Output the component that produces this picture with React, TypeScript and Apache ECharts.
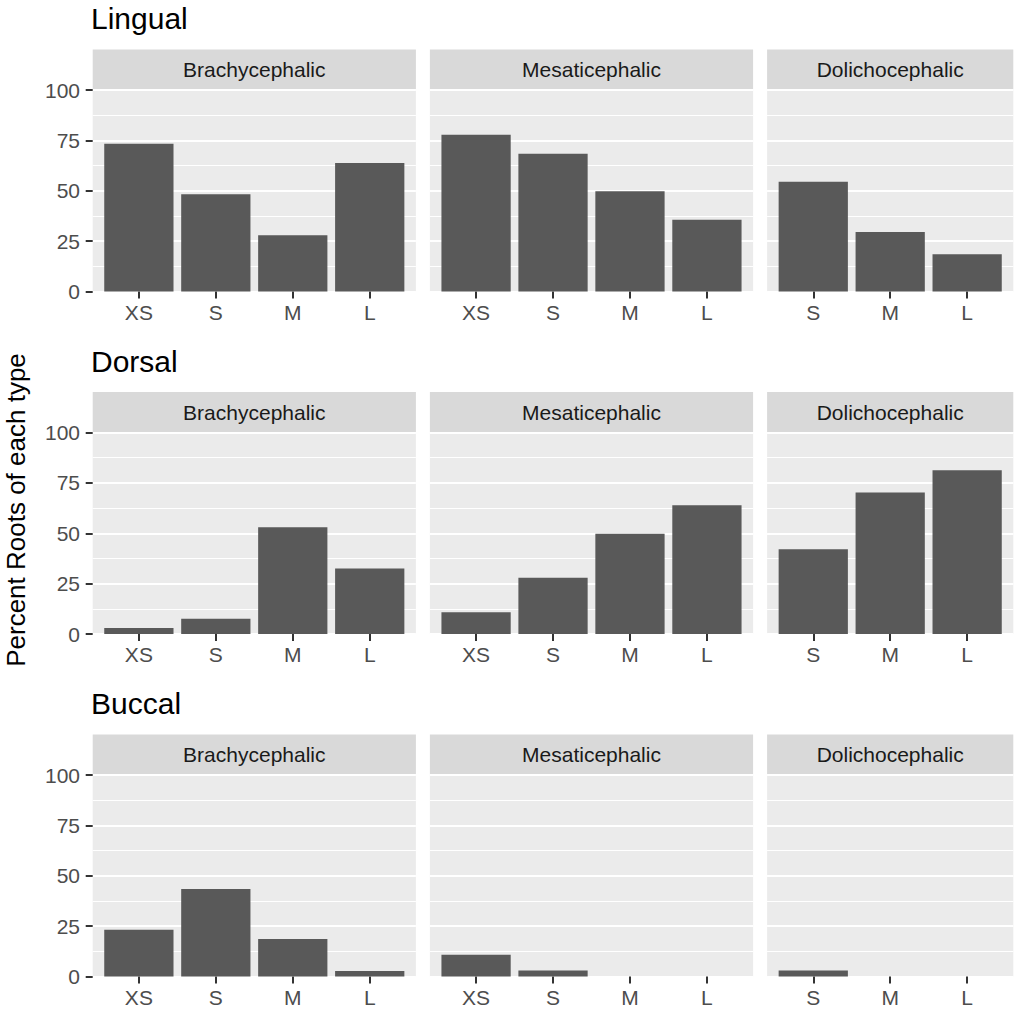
import React, { useEffect, useRef } from "react";
import * as echarts from "echarts";

const rowTitles = ["Lingual", "Dorsal", "Buccal"];
const colTitles = ["Brachycephalic", "Mesaticephalic", "Dolichocephalic"];
const sizes4 = ["XS", "S", "M", "L"];
const sizes3 = ["S", "M", "L"];
const yAxisTitle = "Percent Roots of each type";

const lingualBrachy = [73.3, 48.3, 28.0, 63.8];
const lingualMesati = [77.8, 68.4, 49.8, 35.7];
const lingualDolicho = [54.5, 29.6, 18.5];
const dorsalBrachy = [3.0, 7.6, 53.0, 32.6];
const dorsalMesati = [10.8, 28.0, 49.8, 63.9];
const dorsalDolicho = [42.1, 70.2, 81.3];
const buccalBrachy = [23.2, 43.4, 18.6, 2.8];
const buccalMesati = [10.8, 3.0, 0, 0];
const buccalDolicho = [3.0, 0, 0];

const panelData = [
  [lingualBrachy, lingualMesati, lingualDolicho],
  [dorsalBrachy, dorsalMesati, dorsalDolicho],
  [buccalBrachy, buccalMesati, buccalDolicho],
];
const colCats = [sizes4, sizes4, sizes3];

const FONT = "'Liberation Sans', Arial, Helvetica, sans-serif";
const colLeft = [92.7, 429.9, 767.1];
const colWidth = [323.2, 323.2, 246.2];
const rowTop = [90, 432.5, 775];
const panelH = 201.6;
const stripH = 40.5;

export default function App() {
  const ref = useRef<HTMLDivElement>(null);
  useEffect(() => {
    if (!ref.current) return;
    const chart = echarts.init(ref.current, null, { renderer: "svg" });
    const grids: any[] = [];
    const xAxes: any[] = [];
    const yAxes: any[] = [];
    const series: any[] = [];
    const graphics: any[] = [];
    let idx = 0;
    for (let r = 0; r < 3; r++) {
      graphics.push({
        type: "text",
        x: 91,
        y: rowTop[r] - 60.7 - 0.3465 * 30,
        style: {
          text: rowTitles[r],
          fontSize: 30,
          fontFamily: FONT,
          fill: "#000000",
          align: "left",
          verticalAlign: "middle",
        },
      });
      for (let c = 0; c < 3; c++) {
        const cats = colCats[c];
        const vals = panelData[r][c];
        const n = cats.length;
        const positions = cats.map((_, k) => k + 1);
        grids.push({
          left: colLeft[c],
          top: rowTop[r],
          width: colWidth[c],
          height: panelH,
          show: true,
          backgroundColor: "#EBEBEB",
          borderWidth: 0,
          containLabel: false,
        });
        xAxes.push({
          type: "value",
          gridIndex: idx,
          min: 0.4,
          max: n + 0.6,
          axisLine: { show: false },
          splitLine: { show: false },
          axisTick: {
            show: true,
            customValues: positions,
            length: 7,
            lineStyle: { color: "#333333", width: 2 },
          },
          axisLabel: {
            show: true,
            customValues: positions,
            formatter: (v: number) => cats[Math.round(v) - 1] ?? "",
            color: "#4D4D4D",
            fontSize: 21,
            fontFamily: FONT,
            margin: 10,
          },
        });
        yAxes.push({
          type: "value",
          gridIndex: idx,
          min: 0,
          max: 100,
          interval: 25,
          axisLine: { show: false },
          axisTick: {
            show: c === 0,
            length: 7,
            lineStyle: { color: "#333333", width: 2 },
          },
          axisLabel: {
            show: c === 0,
            color: "#4D4D4D",
            fontSize: 21,
            fontFamily: FONT,
            margin: 12.7,
          },
          splitLine: { show: true, lineStyle: { color: "#FFFFFF", width: 2.2 } },
          minorTick: { show: false, splitNumber: 2 },
          minorSplitLine: { show: true, lineStyle: { color: "#FFFFFF", width: 1.1 } },
        });
        series.push({
          type: "bar",
          xAxisIndex: idx,
          yAxisIndex: idx,
          data: vals.map((v, k) => [positions[k], v]),
          barWidth: "90%",
          itemStyle: { color: "#595959" },
          silent: true,
        });
        graphics.push({
          type: "rect",
          shape: {
            x: colLeft[c],
            y: rowTop[r] - stripH,
            width: colWidth[c],
            height: stripH - 0.6,
          },
          style: { fill: "#D9D9D9" },
        });
        graphics.push({
          type: "text",
          x: colLeft[c] + colWidth[c] / 2,
          y: rowTop[r] - stripH / 2,
          style: {
            text: colTitles[c],
            fontSize: 21,
            fontFamily: FONT,
            fill: "#1A1A1A",
            align: "center",
            verticalAlign: "middle",
          },
        });
        idx++;
      }
    }
    graphics.push({
      type: "text",
      x: 16,
      y: 510,
      rotation: Math.PI / 2,
      style: {
        text: yAxisTitle,
        fontSize: 26,
        fontFamily: FONT,
        fill: "#000000",
        align: "center",
        verticalAlign: "middle",
      },
    });
    chart.setOption({
      animation: false,
      backgroundColor: "#FFFFFF",
      grid: grids,
      xAxis: xAxes,
      yAxis: yAxes,
      series,
      graphic: graphics,
    });
    return () => chart.dispose();
  }, []);
  return (
    <div
      ref={ref}
      style={{ position: "absolute", left: 0, top: 0, width: 1021, height: 1011 }}
    />
  );
}
